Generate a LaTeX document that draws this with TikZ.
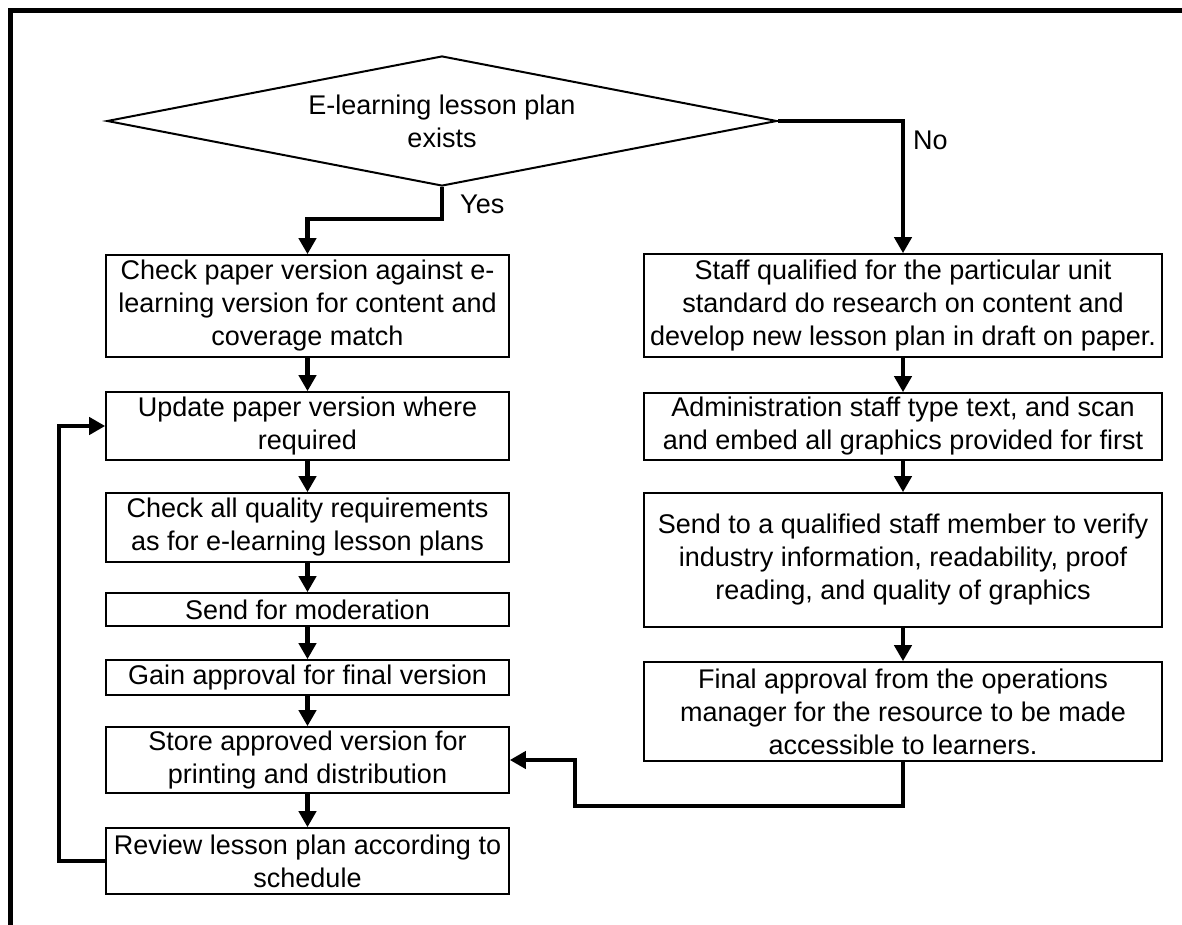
\documentclass[tikz,border=0pt]{standalone}
\usepackage{fontspec}
\setmainfont{Liberation Sans}
\usetikzlibrary{shapes.geometric,arrows.meta}
\begin{document}
\begin{tikzpicture}[x=1pt,y=-1pt,
  txt/.style={font=\fontsize{27}{33}\selectfont},
  stepbox/.style={txt,draw,line width=1.6pt,inner sep=0pt,align=center},
  leftbox/.style={stepbox,minimum width=403pt},
  rightbox/.style={stepbox,minimum width=518pt},
  decision/.style={txt,draw,line width=2pt,shape=diamond,aspect=5.15,
    minimum width=670pt,minimum height=130pt,inner sep=0pt,align=center},
  conn/.style={line width=4.5pt,line join=miter,
    -{Triangle[width=17pt,length=16pt]}},
  lbl/.style={txt,inner sep=0pt,anchor=west}]
\useasboundingbox (0,0) rectangle (1182,925);
% page frame (top and left edges)
\draw[line width=4.5pt] (10.5,925) -- (10.5,10.5) -- (1182,10.5);

% decision
\node[decision] (dia) at (442,121) {E-learning lesson plan\\exists};

% left column
\node[leftbox,minimum height=102pt] (l1) at (307.5,306)
  {Check paper version against e-\\learning version for content and\\coverage match};
\node[leftbox,minimum height=68pt] (l2) at (307.5,426)
  {Update paper version where\\required};
\node[leftbox,minimum height=69pt] (l3) at (307.5,527.5)
  {Check all quality requirements\\as for e-learning lesson plans};
\node[leftbox,minimum height=33pt] (l4) at (307.5,609.5)
  {Send for moderation};
\node[leftbox,minimum height=35pt] (l5) at (307.5,677.5)
  {Gain approval for final version};
\node[leftbox,minimum height=66pt] (l6) at (307.5,760)
  {Store approved version for\\printing and distribution};
\node[leftbox,minimum height=66pt] (l7) at (307.5,861)
  {Review lesson plan according to\\schedule};

% right column
\node[rightbox,minimum height=103pt] (r1) at (903,305.5)
  {Staff qualified for the particular unit\\standard do research on content and\\develop new lesson plan in draft on paper.};
\node[rightbox,minimum height=67pt] (r2) at (903,426.5)
  {Administration staff type text, and scan\\and embed all graphics provided for first};
\node[rightbox,minimum height=134pt] (r3) at (903,560)
  {Send to a qualified staff member to verify\\industry information, readability, proof\\reading, and quality of graphics};
\node[rightbox,minimum height=99pt] (r4) at (903,711.5)
  {Final approval from the operations\\manager for the resource to be made\\accessible to learners.};

% branch labels
\node[lbl] (yes) at (460,204) {Yes};
\node[lbl] (no) at (913,140) {No};

% connectors
\draw[conn] (dia.south) -- ++(0,32) -| (l1.north);
\draw[conn] (dia.east) -| (r1.north);
\draw[conn] (l1) -- (l2);
\draw[conn] (l2) -- (l3);
\draw[conn] (l3) -- (l4);
\draw[conn] (l4) -- (l5);
\draw[conn] (l5) -- (l6);
\draw[conn] (l6) -- (l7);
\draw[conn] (r1) -- (r2);
\draw[conn] (r2) -- (r3);
\draw[conn] (r3) -- (r4);
\draw[conn] (r4.south) -- ++(0,44) -- ++(-328,0) |- (l6.east);
\draw[conn] (l7.west) -- ++(-46,0) |- (l2.west);
\end{tikzpicture}
\end{document}
